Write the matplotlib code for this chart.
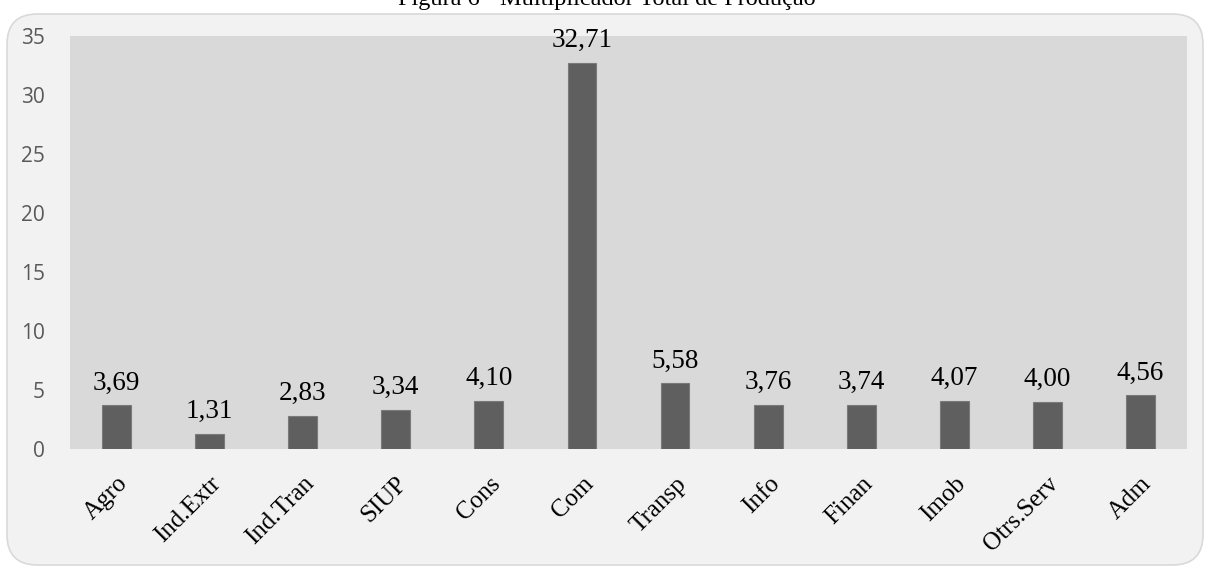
import matplotlib
matplotlib.use('Agg')
from matplotlib import pyplot as plt
from matplotlib.patches import FancyBboxPatch
from matplotlib.transforms import ScaledTranslation

setores = ['Agro', 'Ind.Extr', 'Ind.Tran', 'SIUP', 'Cons', 'Com', 'Transp',
           'Info', 'Finan', 'Imob', 'Otrs.Serv', 'Adm']
multiplicador = [3.69, 1.31, 2.83, 3.34, 4.10, 32.71, 5.58, 3.76, 3.74, 4.07, 4.00, 4.56]
yticks = [0, 5, 10, 15, 20, 25, 30, 35]

fig = plt.figure(figsize=(12.14, 5.67), dpi=100)
fig.patch.set_facecolor('white')

# caixa arredondada de fundo (estilo Excel)
W, H = 1214, 567
box = FancyBboxPatch((7 / W, 2 / H), 1196 / W, 551 / H,
                     boxstyle='round,pad=0,rounding_size=0.025',
                     transform=fig.transFigure, facecolor='#f2f2f2',
                     edgecolor='#d9d9d9', linewidth=1.2, zorder=-10,
                     mutation_aspect=W / H)
fig.patches.append(box)

fig.text(0.5, 1 - 5 / H, 'Figura 6 - Multiplicador Total de Produção',
         ha='center', va='baseline', fontsize=17.5, family='Liberation Serif',
         color='black')

ax = fig.add_axes([70 / W, 1 - 449 / H, 1117 / W, 413 / H])
ax.set_facecolor('#d9d9d9')

x = range(len(setores))
ax.bar(x, multiplicador, width=0.31, color='#5f5f5f', edgecolor='#7a7a7a', linewidth=0.8)

for i, v in zip(x, multiplicador):
    ax.annotate(('%.2f' % v).replace('.', ','), (i, v), xytext=(0, 7),
                textcoords='offset points', ha='center', va='bottom',
                fontsize=19.5, family='Liberation Serif', color='black')

ax.set_xlim(-0.5, len(setores) - 0.5)
ax.set_ylim(0, 35)
ax.set_yticks(yticks)
ax.set_yticklabels([str(t) for t in yticks], family='Open Sans', fontsize=15, color='#595959')
ax.set_xticks(list(x))
ax.set_xticklabels(setores, rotation=45, ha='right', rotation_mode='anchor',
                   family='Liberation Serif', fontsize=18)
desloc = ScaledTranslation(-0.11, 0, fig.dpi_scale_trans)
for lb in ax.get_xticklabels():
    lb.set_transform(lb.get_transform() + desloc)
ax.tick_params(axis='y', length=0, pad=18)
ax.tick_params(axis='x', length=0, pad=17)
for s in ax.spines.values():
    s.set_visible(False)

fig.savefig('out.png', dpi=100)
